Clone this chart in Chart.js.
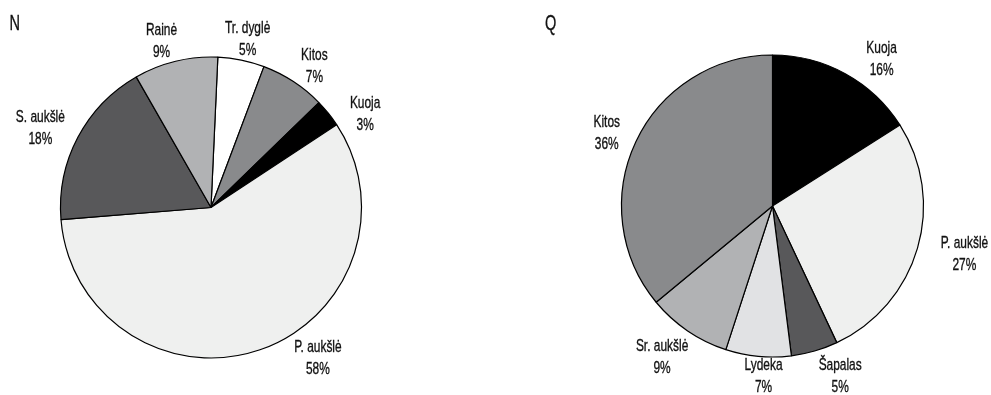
<!DOCTYPE html>
<html>
<head>
<meta charset="utf-8">
<script src="https://cdn.jsdelivr.net/npm/chart.js@4"></script>
<style>
html,body{margin:0;padding:0;background:#fff;width:991px;height:395px;overflow:hidden;}
canvas{position:absolute;left:0;top:0;}
</style>
</head>
<body>
<canvas id="cN" width="991" height="395"></canvas>
<canvas id="cQ" width="991" height="395"></canvas>
<script>
// ---- Data ----
const titleN = 'N';
const labelsN = ['Tr. dyglė', 'Kitos', 'Kuoja', 'P. aukšlė', 'S. aukšlė', 'Rainė'];
const valuesN = [5, 7, 3, 58, 18, 9];

const titleQ = 'Q';
const labelsQ = ['Kuoja', 'P. aukšlė', 'Šapalas', 'Lydeka', 'Sr. aukšlė', 'Kitos'];
const valuesQ = [16, 27, 5, 7, 9, 36];

// ---- Styles ----
const colorsN = ['#ffffff', '#898a8c', '#000000', '#eff0ef', '#58585a', '#b1b2b4'];
const colorsQ = ['#000000', '#eff0ef', '#58585a', '#e1e2e4', '#b1b2b4', '#898a8c'];
// label placement: angular nudge (deg, clockwise) from slice middle, distance in radii
const placeN = {nudge: [0.7, 3, 7.7, -16.3, -3, -3], dist: [1.143, 1.163, 1.196, 1.229, 1.249, 1.15]};
const placeQ = {nudge: [7.8, -2, -5.5, -2.4, 2, -1.5], dist: [1.212, 1.311, 1.212, 1.132, 1.238, 1.199]};

const FONT = '"Liberation Sans", Arial, sans-serif';
const LABEL_PX = 17;
const TITLE_PX = 22;

function condenseFactor(ctx, font, sample, target) {
  ctx.save();
  ctx.font = font;
  const w = ctx.measureText(sample).width;
  ctx.restore();
  return w > 0 ? target / w : 0.7;
}

function scaledText(ctx, t, x, y, sx) {
  ctx.save();
  ctx.translate(x, y);
  ctx.scale(sx, 1);
  ctx.strokeText(t, 0, 0);
  ctx.fillText(t, 0, 0);
  ctx.restore();
}

const outLabels = {
  id: 'outLabels',
  afterDatasetsDraw(chart, args, opts) {
    const meta = chart.getDatasetMeta(0);
    const ds = chart.data.datasets[0];
    const ctx = chart.ctx;
    const labelFont = LABEL_PX + 'px ' + FONT;
    const titleFont = TITLE_PX + 'px ' + FONT;
    const sx = condenseFactor(ctx, labelFont, 'P. aukšlė', 47.5);
    const tsx = condenseFactor(ctx, titleFont, 'N', 10.5);
    ctx.save();
    ctx.fillStyle = '#111111';
    ctx.strokeStyle = '#111111';
    ctx.lineWidth = 0.35;
    ctx.font = labelFont;
    ctx.textAlign = 'center';
    ctx.textBaseline = 'middle';
    meta.data.forEach((arc, i) => {
      const p = arc.getProps(['x', 'y', 'startAngle', 'endAngle', 'outerRadius'], true);
      const mid = (p.startAngle + p.endAngle) / 2 + opts.nudge[i] * Math.PI / 180;
      const d = p.outerRadius * opts.dist[i];
      const lx = p.x + Math.cos(mid) * d;
      const ly = p.y + Math.sin(mid) * d;
      scaledText(ctx, chart.data.labels[i], lx, ly - 11, sx);
      scaledText(ctx, ds.data[i] + '%', lx, ly + 11, sx);
    });
    // panel letter
    ctx.textAlign = 'left';
    ctx.textBaseline = 'alphabetic';
    ctx.font = titleFont;
    scaledText(ctx, opts.title, opts.titleX, 30, tsx);
    ctx.restore();
  }
};

function makePie(id, labels, values, colors, place, rotation, padding, radius, title, titleX) {
  return new Chart(document.getElementById(id), {
    type: 'pie',
    data: {
      labels: labels,
      datasets: [{
        data: values,
        backgroundColor: colors,
        borderColor: '#000000',
        borderWidth: 1.2
      }]
    },
    options: {
      responsive: false,
      devicePixelRatio: 1,
      animation: false,
      rotation: rotation,
      radius: radius,
      layout: {padding: padding},
      plugins: {
        legend: {display: false},
        tooltip: {enabled: false},
        outLabels: Object.assign({title: title, titleX: titleX}, place)
      }
    },
    plugins: [outLabels]
  });
}

makePie('cN', labelsN, valuesN, colorsN, placeN, 2.6,
  {left: 0, right: 569, top: 20, bottom: 0}, 150.5, titleN, 9.5);
makePie('cQ', labelsQ, valuesQ, colorsQ, placeQ, 0,
  {left: 554, right: 0, top: 17, bottom: 0}, 151, titleQ, 545);
</script>
</body>
</html>
